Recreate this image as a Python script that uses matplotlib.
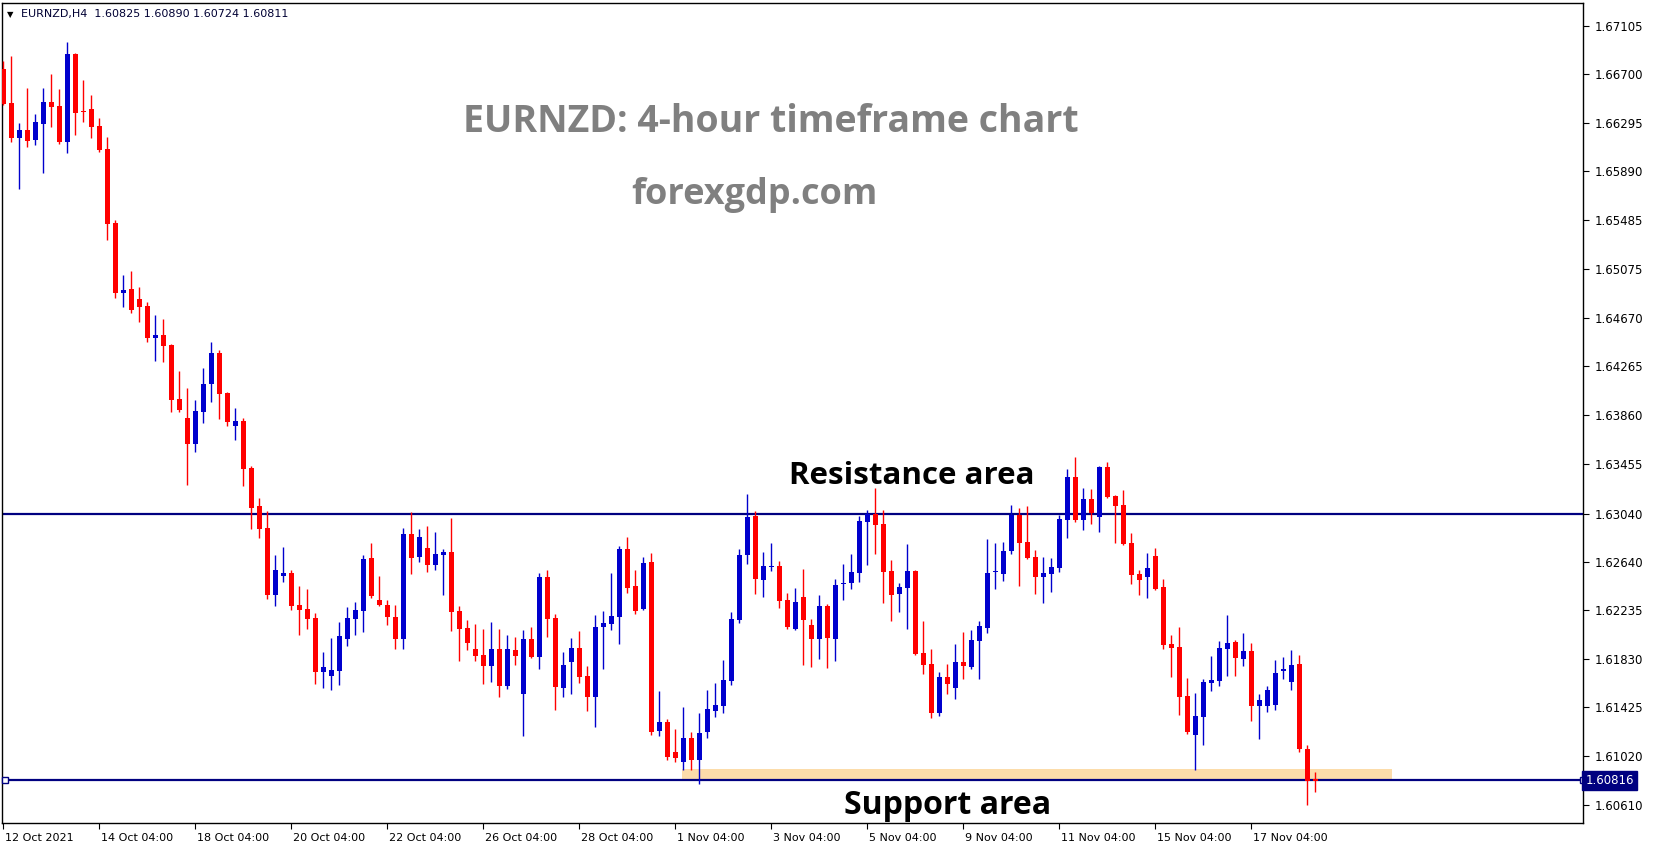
import numpy as np
import matplotlib.pyplot as plt
import matplotlib.transforms as mtransforms
from matplotlib.patches import Rectangle

# EURNZD H4 candles, oldest first
opens = [1.66743, 1.66460, 1.66168, 1.66235, 1.66152, 1.66285, 1.66468, 1.66435, 1.66135, 1.66868,
         1.66393, 1.66410, 1.66268, 1.66077, 1.65460, 1.64877, 1.64911, 1.64827, 1.64769, 1.64502,
         1.64527, 1.64444, 1.63994, 1.63836, 1.63620, 1.63886, 1.64119, 1.64378, 1.64044, 1.63769,
         1.63811, 1.63420, 1.63103, 1.62920, 1.62362, 1.62520, 1.62545, 1.62278, 1.62245, 1.62170,
         1.61720, 1.61687, 1.61729, 1.61995, 1.62162, 1.62228, 1.62670, 1.62320, 1.62278, 1.62178,
         1.61995, 1.62870, 1.62678, 1.62753, 1.62612, 1.62695, 1.62720, 1.62228, 1.62087, 1.61912,
         1.61862, 1.61770, 1.61912, 1.61604, 1.61904, 1.61537, 1.61995, 1.61845, 1.62512, 1.62170,
         1.61587, 1.61804, 1.61920, 1.61687, 1.61512, 1.62095, 1.62120, 1.62178, 1.62745, 1.62437,
         1.62245, 1.62637, 1.61229, 1.61304, 1.61054, 1.60971, 1.61171, 1.60987, 1.61220, 1.61395,
         1.61437, 1.61645, 1.62153, 1.62695, 1.63020, 1.62487, 1.62591, 1.62603, 1.62320, 1.62078,
         1.62345, 1.62112, 1.61995, 1.62270, 1.61995, 1.62453, 1.62462, 1.62545, 1.62970, 1.63036,
         1.62953, 1.62562, 1.62370, 1.62420, 1.62562, 1.61879, 1.61787, 1.61379, 1.61679, 1.61587,
         1.61804, 1.61762, 1.61979, 1.62087, 1.62553, 1.62537, 1.62728, 1.63028, 1.62803, 1.62678,
         1.62512, 1.62537, 1.62587, 1.62986, 1.63345, 1.62986, 1.63161, 1.63011, 1.63428, 1.63186,
         1.63111, 1.62795, 1.62537, 1.62512, 1.62687, 1.62428, 1.61954, 1.61929, 1.61520, 1.61195,
         1.61345, 1.61629, 1.61645, 1.61912, 1.61970, 1.61829, 1.61895, 1.61437, 1.61437, 1.61445,
         1.61729, 1.61637, 1.61787, 1.61079, 1.60825]
highs = [1.66810, 1.66851, 1.66293, 1.66585, 1.66368, 1.66585, 1.66702, 1.66577, 1.66968, 1.66877,
         1.66652, 1.66527, 1.66335, 1.66177, 1.65485, 1.65027, 1.65061, 1.64927, 1.64802, 1.64694,
         1.64661, 1.64452, 1.64228, 1.64086, 1.63986, 1.64253, 1.64469, 1.64402, 1.64050, 1.63919,
         1.63836, 1.63436, 1.63170, 1.63061, 1.62695, 1.62762, 1.62570, 1.62437, 1.62412, 1.62212,
         1.61887, 1.62004, 1.62137, 1.62262, 1.62303, 1.62695, 1.62795, 1.62520, 1.62320, 1.62278,
         1.62920, 1.63053, 1.62911, 1.62936, 1.62886, 1.62745, 1.63003, 1.62270, 1.62153, 1.62120,
         1.62078, 1.62137, 1.62078, 1.62028, 1.62012, 1.62070, 1.62095, 1.62545, 1.62570, 1.62203,
         1.61887, 1.62004, 1.62062, 1.61770, 1.62195, 1.62228, 1.62545, 1.62770, 1.62845, 1.62570,
         1.62678, 1.62712, 1.61562, 1.61329, 1.61245, 1.61429, 1.61220, 1.61379, 1.61570, 1.61629,
         1.61820, 1.62220, 1.62745, 1.63203, 1.63061, 1.62720, 1.62795, 1.62645, 1.62378, 1.62420,
         1.62578, 1.62162, 1.62362, 1.62287, 1.62495, 1.62620, 1.62703, 1.63020, 1.63070, 1.63253,
         1.63070, 1.62653, 1.62462, 1.62787, 1.62570, 1.62145, 1.61912, 1.61720, 1.61787, 1.61954,
         1.62053, 1.62070, 1.62145, 1.62828, 1.62795, 1.62803, 1.63111, 1.63086, 1.63103, 1.62737,
         1.62678, 1.62670, 1.63028, 1.63411, 1.63511, 1.63253, 1.63245, 1.63436, 1.63470, 1.63190,
         1.63236, 1.62878, 1.62570, 1.62712, 1.62753, 1.62495, 1.62028, 1.62095, 1.61670, 1.61545,
         1.61662, 1.61854, 1.61979, 1.62195, 1.61987, 1.62045, 1.61962, 1.61537, 1.61604, 1.61820,
         1.61845, 1.61904, 1.61862, 1.61112, 1.60890]
lows = [1.66443, 1.66135, 1.65744, 1.66093, 1.66110, 1.65877, 1.66260, 1.66119, 1.66044, 1.66193,
        1.66302, 1.66168, 1.66052, 1.65319, 1.64836, 1.64761, 1.64711, 1.64636, 1.64469, 1.64311,
        1.64302, 1.63886, 1.63886, 1.63278, 1.63553, 1.63794, 1.63969, 1.63828, 1.63769, 1.63653,
        1.63270, 1.62911, 1.62836, 1.62328, 1.62270, 1.62470, 1.62237, 1.62028, 1.62078, 1.61620,
        1.61587, 1.61570, 1.61612, 1.61937, 1.62028, 1.62053, 1.62337, 1.62270, 1.62112, 1.61912,
        1.61912, 1.62537, 1.62637, 1.62553, 1.62570, 1.62362, 1.62062, 1.61812, 1.61904, 1.61812,
        1.61620, 1.61637, 1.61512, 1.61579, 1.61779, 1.61187, 1.61840, 1.61745, 1.62012, 1.61404,
        1.61512, 1.61537, 1.61629, 1.61395, 1.61262, 1.61745, 1.62070, 1.61954, 1.62378, 1.62203,
        1.62240, 1.61195, 1.61187, 1.60987, 1.60971, 1.60904, 1.60904, 1.60787, 1.61171, 1.61345,
        1.61379, 1.61612, 1.62128, 1.62620, 1.62370, 1.62345, 1.62562, 1.62253, 1.62078, 1.62073,
        1.61779, 1.61762, 1.61829, 1.61754, 1.61812, 1.62320, 1.62412, 1.62470, 1.62612, 1.62703,
        1.62295, 1.62145, 1.62220, 1.62078, 1.61865, 1.61704, 1.61337, 1.61354, 1.61537, 1.61495,
        1.61662, 1.61745, 1.61662, 1.62045, 1.62412, 1.62478, 1.62703, 1.62437, 1.62662, 1.62370,
        1.62295, 1.62387, 1.62553, 1.62836, 1.62970, 1.62903, 1.62953, 1.62886, 1.63170, 1.62795,
        1.62778, 1.62453, 1.62362, 1.62337, 1.62403, 1.61912, 1.61679, 1.61362, 1.61204, 1.60904,
        1.61112, 1.61562, 1.61604, 1.61687, 1.61687, 1.61770, 1.61312, 1.61162, 1.61387, 1.61404,
        1.61662, 1.61570, 1.61054, 1.60612, 1.60724]
closes = [1.66452, 1.66168, 1.66235, 1.66143, 1.66302, 1.66468, 1.66427, 1.66135, 1.66868, 1.66377,
          1.66385, 1.66260, 1.66069, 1.65452, 1.64877, 1.64902, 1.64736, 1.64761, 1.64502, 1.64527,
          1.64436, 1.63986, 1.63903, 1.63620, 1.63894, 1.64119, 1.64378, 1.64036, 1.63803, 1.63811,
          1.63411, 1.63086, 1.62911, 1.62362, 1.62570, 1.62545, 1.62270, 1.62237, 1.62162, 1.61720,
          1.61762, 1.61737, 1.62020, 1.62170, 1.62237, 1.62662, 1.62353, 1.62278, 1.62178, 1.61995,
          1.62870, 1.62670, 1.62845, 1.62612, 1.62703, 1.62720, 1.62220, 1.62078, 1.61962, 1.61854,
          1.61770, 1.61912, 1.61604, 1.61912, 1.61854, 1.61995, 1.61845, 1.62512, 1.62162, 1.61595,
          1.61779, 1.61920, 1.61679, 1.61512, 1.62095, 1.62128, 1.62187, 1.62745, 1.62420, 1.62228,
          1.62628, 1.61220, 1.61304, 1.61012, 1.61004, 1.61171, 1.60987, 1.61212, 1.61412, 1.61445,
          1.61654, 1.62162, 1.62695, 1.63011, 1.62495, 1.62603, 1.62599, 1.62312, 1.62095, 1.62303,
          1.62153, 1.61995, 1.62270, 1.62004, 1.62445, 1.62462, 1.62553, 1.62978, 1.63036, 1.62945,
          1.62553, 1.62362, 1.62428, 1.62562, 1.61870, 1.61779, 1.61379, 1.61679, 1.61620, 1.61804,
          1.61770, 1.61987, 1.62103, 1.62545, 1.62562, 1.62728, 1.63028, 1.62795, 1.62670, 1.62512,
          1.62545, 1.62595, 1.62995, 1.63345, 1.62986, 1.63161, 1.63045, 1.63428, 1.63178, 1.63103,
          1.62787, 1.62528, 1.62487, 1.62587, 1.62412, 1.61945, 1.61920, 1.61512, 1.61220, 1.61354,
          1.61637, 1.61654, 1.61920, 1.61962, 1.61837, 1.61895, 1.61437, 1.61487, 1.61570, 1.61712,
          1.61745, 1.61779, 1.61079, 1.60812, 1.60811]

# time axis labels, one every 12 candles
time_tick_idx = [0, 12, 24, 36, 48, 60, 72, 84, 96, 108, 120, 132, 144, 156]
time_tick_labels = ["12 Oct 2021", "14 Oct 04:00", "18 Oct 04:00", "20 Oct 04:00", "22 Oct 04:00",
                    "26 Oct 04:00", "28 Oct 04:00", "1 Nov 04:00", "3 Nov 04:00", "5 Nov 04:00",
                    "9 Nov 04:00", "11 Nov 04:00", "15 Nov 04:00", "17 Nov 04:00"]

# price axis labels
price_ticks = [1.67105, 1.66700, 1.66295, 1.65890, 1.65485, 1.65075, 1.64670, 1.64265, 1.63860,
               1.63455, 1.63040, 1.62640, 1.62235, 1.61830, 1.61425, 1.61020, 1.60610]

resistance = 1.63040
support = 1.60816
zone_low = 1.60816
zone_high = 1.60913
header = "EURNZD,H4  1.60825 1.60890 1.60724 1.60811"

BULL = '#0000CD'
BEAR = '#FF0000'
NAVY = '#000080'


def main():
    o = np.array(opens)
    h = np.array(highs)
    l = np.array(lows)
    c = np.array(closes)
    x = np.arange(len(o))
    up = c >= o
    colors = np.where(up, BULL, BEAR)

    fig = plt.figure(figsize=(16.53, 8.5), dpi=100)
    ax = fig.add_axes([0.0012, 0.0318, 0.9565, 0.965])

    # support zone, behind the candles
    ax.add_patch(Rectangle((84.8, zone_low), 173.6 - 84.8, zone_high - zone_low,
                           facecolor='#fcdcaa', edgecolor='none', zorder=1))

    # horizontal lines
    ax.axhline(resistance, color=NAVY, lw=1.6, zorder=2)
    ax.axhline(support, color=NAVY, lw=1.6, zorder=2)
    trans = mtransforms.blended_transform_factory(ax.transAxes, ax.transData)
    ax.plot([0.002, 1.0], [support, support], 's', ms=4, mfc='white', mec=NAVY,
            mew=1, transform=trans, clip_on=False, zorder=6)

    # candles: wicks then bodies
    ax.vlines(x, l, h, colors=colors, lw=1.0, zorder=3)
    body = np.maximum(np.abs(c - o), 0.00004)
    ax.bar(x, body, bottom=np.minimum(o, c), width=0.62, color=colors,
           linewidth=0, zorder=4)

    ax.set_xlim(-0.16, 197.5)
    ax.set_ylim(1.60462, 1.67295)

    # axes look like the MT4 window
    for s in ax.spines.values():
        s.set_color('black')
        s.set_linewidth(1)
    ax.yaxis.tick_right()
    ax.set_yticks(price_ticks)
    ax.set_yticklabels([f"{p:.5f}" for p in price_ticks])
    ax.tick_params(axis='y', direction='out', length=4, pad=4, labelsize=8.5)
    ax.set_xticks(time_tick_idx)
    ax.set_xticklabels(time_tick_labels, ha='left')
    ax.tick_params(axis='x', direction='out', length=4, pad=3, labelsize=8)
    for lab in ax.get_xticklabels():
        lab.set_transform(lab.get_transform() + mtransforms.ScaledTranslation(2 / 100, 0, fig.dpi_scale_trans))

    # price box for the support line
    ax.text(1.0015, support, "1.60816", transform=trans, ha='left', va='center',
            fontsize=8.5, color='white', zorder=7, clip_on=False,
            bbox=dict(boxstyle='square,pad=0.25', facecolor=NAVY, edgecolor=NAVY))

    # header
    fig.text(0.0045, 0.9835, "\u25bc", fontsize=6, color='black', va='center')
    fig.text(0.013, 0.9835, header, fontsize=8, color='#000033', va='center')

    # annotations
    fig.text(771 / 1653, 1 - 122 / 850, "EURNZD: 4-hour timeframe chart", fontsize=27,
             fontweight='bold', family='Open Sans', color='#808080', ha='center', va='center')
    fig.text(754 / 1653, 1 - 195 / 850, "forexgdp.com", fontsize=26,
             fontweight='bold', family='Open Sans', color='#808080', ha='center', va='center')
    fig.text(912 / 1653, 1 - 476 / 850, "Resistance area", fontsize=22.5,
             fontweight='bold', family='Open Sans', color='black', ha='center', va='center')
    fig.text(948 / 1653, 1 - 806 / 850, "Support area", fontsize=23,
             fontweight='bold', family='Open Sans', color='black', ha='center', va='center')

    fig.savefig('out.png', dpi=100)


if __name__ == "__main__":
    main()
